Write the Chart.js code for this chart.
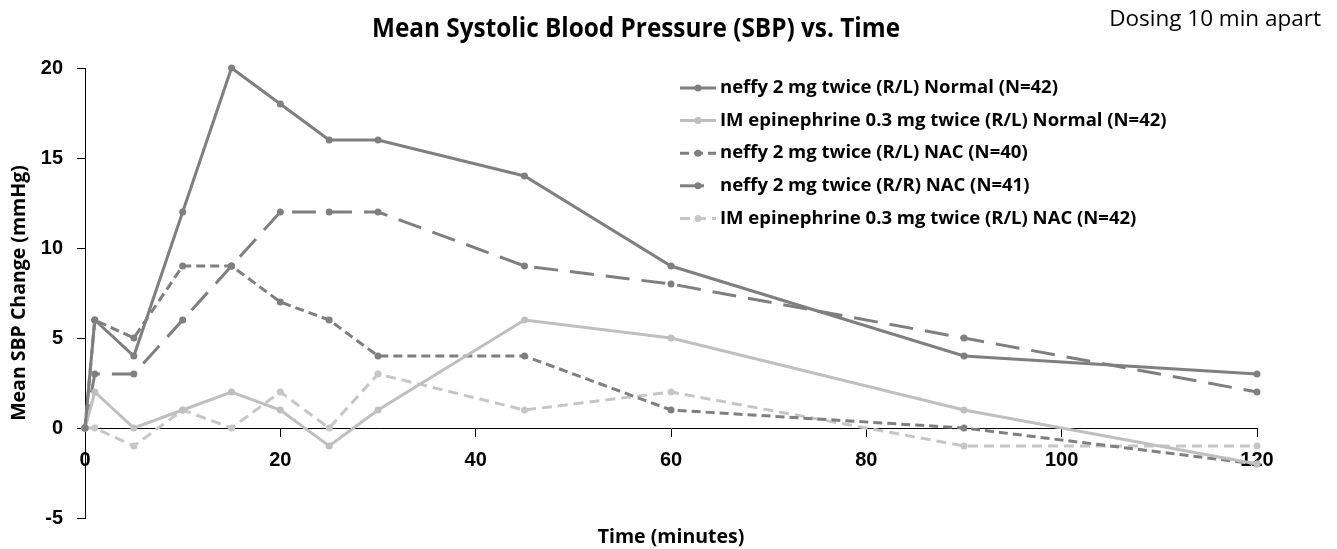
<!DOCTYPE html>
<html lang="en">
<head>
<meta charset="utf-8">
<title>Mean Systolic Blood Pressure (SBP) vs. Time</title>
<script src="https://cdn.jsdelivr.net/npm/chart.js@4.4.1/dist/chart.umd.min.js"></script>
<style>
    html, body { margin: 0; padding: 0; background: #fff; }
    #chart-wrap { width: 1337px; height: 549px; }
</style>
</head>
<body>
<div id="chart-wrap"><canvas id="sbp-chart" width="1337" height="549"></canvas></div>
<script>
// Data
const timePoints = [0, 1, 5, 10, 15, 20, 25, 30, 45, 60, 90, 120];
const xTicks = [0, 20, 40, 60, 80, 100, 120];
const yTicks = [-5, 0, 5, 10, 15, 20];

const neffyNormal = [0, 6, 4, 12, 20, 18, 16, 16, 14, 9, 4, 3];
const imNormal = [0, 2, 0, 1, 2, 1, -1, 1, 6, 5, 1, -2];
const neffyRLNac = [0, 6, 5, 9, 9, 7, 6, 4, 4, 1, 0, -2];
const neffyRRNac = [0, 3, 3, 6, 9, 12, 12, 12, 9, 8, 5, 2];
const imNac = [0, 0, -1, 1, 0, 2, 0, 3, 1, 2, -1, -1];

const seriesLabels = [
    'neffy 2 mg twice (R/L) Normal (N=42)',
    'IM epinephrine 0.3 mg twice (R/L) Normal (N=42)',
    'neffy 2 mg twice (R/L) NAC (N=40)',
    'neffy 2 mg twice (R/R) NAC (N=41)',
    'IM epinephrine 0.3 mg twice (R/L) NAC (N=42)'
];

const chartTitle = 'Mean Systolic Blood Pressure (SBP) vs. Time';
const noteText = 'Dosing 10 min apart';
const xTitle = 'Time (minutes)';
const yTitle = 'Mean SBP Change (mmHg)';

(function() {
    'use strict';

    const DARK = '#7f7f7f';
    const LIGHT = '#bfbfbf';
    const LIGHTER = '#c6c6c6';
    const TEXT_FONT = '"Open Sans", "Noto Sans", sans-serif';
    const TICK_FONT = '"Liberation Sans", Arial, sans-serif';

    /**
     * Build a dataset from one value list
     */
    function makeSeries(label, values, color, dash) {
        return {
            label: label,
            data: values.map((v, i) => ({ x: timePoints[i], y: v })),
            borderColor: color,
            backgroundColor: color,
            borderWidth: 3,
            borderDash: dash,
            pointRadius: 3.5,
            pointBorderWidth: 0,
            pointBackgroundColor: color,
            tension: 0,
            clip: false
        };
    }

    /**
     * Title, note, x title and legend drawn on top
     */
    const textPlugin = {
        id: 'textPlugin',
        afterDraw(chart) {
            const ctx = chart.ctx;
            const area = chart.chartArea;
            ctx.save();
            ctx.fillStyle = '#000';
            ctx.textBaseline = 'middle';

            // Main title (condensed)
            ctx.font = 'bold 26px ' + TEXT_FONT;
            ctx.textAlign = 'center';
            ctx.fillText(chartTitle, 636, 30, 528);

            // Dosing note
            ctx.font = '22.5px ' + TEXT_FONT;
            ctx.textAlign = 'right';
            ctx.fillText(noteText, 1321, 20, 218);

            // X axis title
            ctx.font = 'bold 19.5px ' + TEXT_FONT;
            ctx.textAlign = 'center';
            ctx.fillText(xTitle, (area.left + area.right) / 2, 537);

            // Legend
            ctx.font = 'bold 18.5px ' + TEXT_FONT;
            ctx.textAlign = 'left';
            chart.data.datasets.forEach((ds, i) => {
                const y = 88 + i * 32.6;
                const x0 = 680;
                const x1 = 716;
                ctx.save();
                ctx.strokeStyle = ds.borderColor;
                ctx.lineWidth = ds.borderWidth;
                ctx.setLineDash(ds.borderDash || []);
                ctx.beginPath();
                ctx.moveTo(x0, y);
                ctx.lineTo(x1, y);
                ctx.stroke();
                ctx.setLineDash([]);
                ctx.fillStyle = ds.borderColor;
                ctx.beginPath();
                ctx.arc((x0 + x1) / 2, y, ds.pointRadius, 0, Math.PI * 2);
                ctx.fill();
                ctx.restore();
                ctx.fillText(ds.label, 720, y);
            });

            ctx.restore();
        }
    };

    /**
     * Initialize chart
     */
    function initChart() {
        const canvas = document.getElementById('sbp-chart');

        new Chart(canvas, {
            type: 'line',
            data: {
                datasets: [
                    makeSeries(seriesLabels[0], neffyNormal, DARK, []),
                    makeSeries(seriesLabels[1], imNormal, LIGHT, []),
                    makeSeries(seriesLabels[2], neffyRLNac, DARK, [9, 5]),
                    makeSeries(seriesLabels[3], neffyRRNac, DARK, [24, 12]),
                    makeSeries(seriesLabels[4], imNac, LIGHTER, [10, 6])
                ]
            },
            options: {
                responsive: false,
                animation: false,
                layout: {
                    padding: { left: 0, top: 68, right: 80, bottom: 31 }
                },
                plugins: {
                    legend: { display: false },
                    tooltip: { enabled: false },
                    title: { display: false }
                },
                scales: {
                    x: {
                        type: 'linear',
                        position: { y: 0 },
                        min: xTicks[0],
                        max: xTicks[xTicks.length - 1],
                        afterBuildTicks: (scale) => {
                            scale.ticks = xTicks.map(v => ({ value: v }));
                        },
                        ticks: {
                            color: '#000',
                            padding: 12,
                            maxRotation: 0,
                            font: { family: TICK_FONT, size: 20, weight: 'bold' }
                        },
                        grid: {
                            drawOnChartArea: false,
                            drawTicks: true,
                            tickLength: 8,
                            color: '#000',
                            lineWidth: 1
                        },
                        border: { color: '#000', width: 1 }
                    },
                    y: {
                        type: 'linear',
                        position: 'left',
                        min: yTicks[0],
                        max: yTicks[yTicks.length - 1],
                        afterBuildTicks: (scale) => {
                            scale.ticks = yTicks.map(v => ({ value: v }));
                        },
                        afterFit: (scale) => {
                            scale.width = 85;
                        },
                        ticks: {
                            color: '#000',
                            padding: 14,
                            font: { family: TICK_FONT, size: 20, weight: 'bold' }
                        },
                        grid: {
                            drawOnChartArea: false,
                            drawTicks: true,
                            tickLength: 8,
                            color: '#000',
                            lineWidth: 1
                        },
                        border: { color: '#000', width: 1 },
                        title: {
                            display: true,
                            text: yTitle,
                            color: '#000',
                            padding: { top: 8, bottom: 0 },
                            font: { family: TEXT_FONT, size: 19.5, weight: 'bold' }
                        }
                    }
                }
            },
            plugins: [textPlugin]
        });
    }

    document.addEventListener('DOMContentLoaded', initChart);
})();
</script>
</body>
</html>
